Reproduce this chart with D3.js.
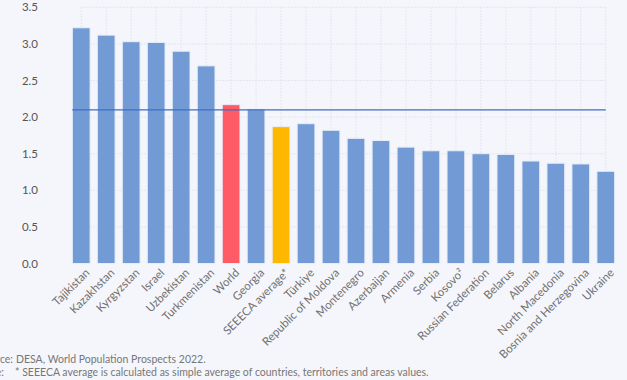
<!DOCTYPE html>
<html><head><meta charset="utf-8">
<script src="https://cdn.jsdelivr.net/npm/d3@7"></script>
<style>
html,body{margin:0;padding:0;background:#f5f6fb;}
svg{display:block;font-family:Lato,"Open Sans",sans-serif;}
</style></head><body>
<svg id="chart" width="627" height="380"></svg>
<script>
const categories = ["Tajikistan","Kazakhstan","Kyrgyzstan","Israel","Uzbekistan","Turkmenistan","World","Georgia","SEEECA average*","Türkiye","Republic of Moldova","Montenegro","Azerbaijan","Armenia","Serbia","Kosovo²","Russian Federation","Belarus","Albania","North Macedonia","Bosnia and Herzegovina","Ukraine"];
const values = [3.22,3.12,3.03,3.02,2.90,2.70,2.17,2.11,1.87,1.91,1.82,1.71,1.68,1.59,1.54,1.54,1.50,1.49,1.40,1.37,1.36,1.26];
const barKinds = ["c","c","c","c","c","c","world","c","avg","c","c","c","c","c","c","c","c","c","c","c","c","c"];
const yTicks = [0,0.5,1.0,1.5,2.0,2.5,3.0,3.5];
const replacementLevel = [2.1];
const sourceText = ["Source:","DESA, World Population Prospects 2022."];
const noteText = ["Note:","* SEEECA average is calculated as simple average of countries, territories and areas values."];

const colors = {c:"#729ad5", world:"#ff5b66", avg:"#ffb800"};
const svg = d3.select("#chart");
const plotTop = 7.3, plotBottom = 263.5;

const x = d3.scaleBand().domain(categories).range([68.6, 618.4]).paddingInner(0.29).paddingOuter(0.15);
const y = d3.scaleLinear().domain([0,3.5]).range([plotBottom, plotTop]);

const gridL = x(categories[0]) + x.bandwidth()/2;
const gridR = x(categories[categories.length-1]) + x.bandwidth()/2;

svg.append("g").selectAll("line").data(yTicks.filter(d=>d>0)).join("line")
  .attr("x1", gridL).attr("x2", gridR)
  .attr("y1", d=>y(d)).attr("y2", d=>y(d))
  .attr("stroke","#dde1ec").attr("stroke-width",1).attr("stroke-dasharray","1.5,1.5");
svg.append("g").selectAll("line").data(categories).join("line")
  .attr("x1", d=>x(d)+x.bandwidth()/2).attr("x2", d=>x(d)+x.bandwidth()/2)
  .attr("y1", y(3.5)).attr("y2", plotBottom)
  .attr("stroke","#dde1ec").attr("stroke-width",1).attr("stroke-dasharray","1.5,1.5");

const yAxis = d3.axisLeft(y).tickValues(yTicks).tickFormat(d3.format(".1f")).tickSize(0).tickPadding(0);
const ga = svg.append("g").attr("transform","translate(38,0)").call(yAxis);
ga.select(".domain").remove();
ga.selectAll("text").attr("fill","#555").attr("font-size","11.5px").attr("font-family","Lato,'Open Sans',sans-serif");

svg.append("g").selectAll("rect").data(categories).join("rect")
  .attr("x", d=>x(d)).attr("width", x.bandwidth())
  .attr("y", (d,i)=>y(values[i])).attr("height", (d,i)=>y(0)-y(values[i]))
  .attr("fill", (d,i)=>colors[barKinds[i]])
  .attr("stroke","#e8edf8").attr("stroke-width",1);

svg.append("g").selectAll("line").data(replacementLevel).join("line")
  .attr("x1", x(categories[0])).attr("x2", gridR)
  .attr("y1", d=>y(d)).attr("y2", d=>y(d))
  .attr("stroke","#3f6cc6").attr("stroke-width",1.2);

const xAxis = d3.axisBottom(x).tickSize(0).tickPadding(0);
const gx = svg.append("g").attr("transform",`translate(0,${plotBottom})`).call(xAxis);
gx.select(".domain").remove();
gx.selectAll("text")
  .attr("fill","#707070").attr("font-size","11.5px").attr("font-family","Lato,'Open Sans',sans-serif")
  .attr("text-anchor","end").attr("dy",null).attr("y",0)
  .attr("transform","translate(9,10) rotate(-45)");

const foot = svg.append("g").attr("fill","#777").attr("font-size","10.5px").attr("font-family","Lato,'Open Sans',sans-serif");
foot.append("text").attr("x",13).attr("y",363).attr("text-anchor","end").text(sourceText[0]);
foot.append("text").attr("x",16).attr("y",363).text(sourceText[1]);
foot.append("text").attr("x",4).attr("y",376).attr("text-anchor","end").text(noteText[0]);
foot.append("text").attr("x",15).attr("y",376).text(noteText[1]);
</script>
</body></html>
